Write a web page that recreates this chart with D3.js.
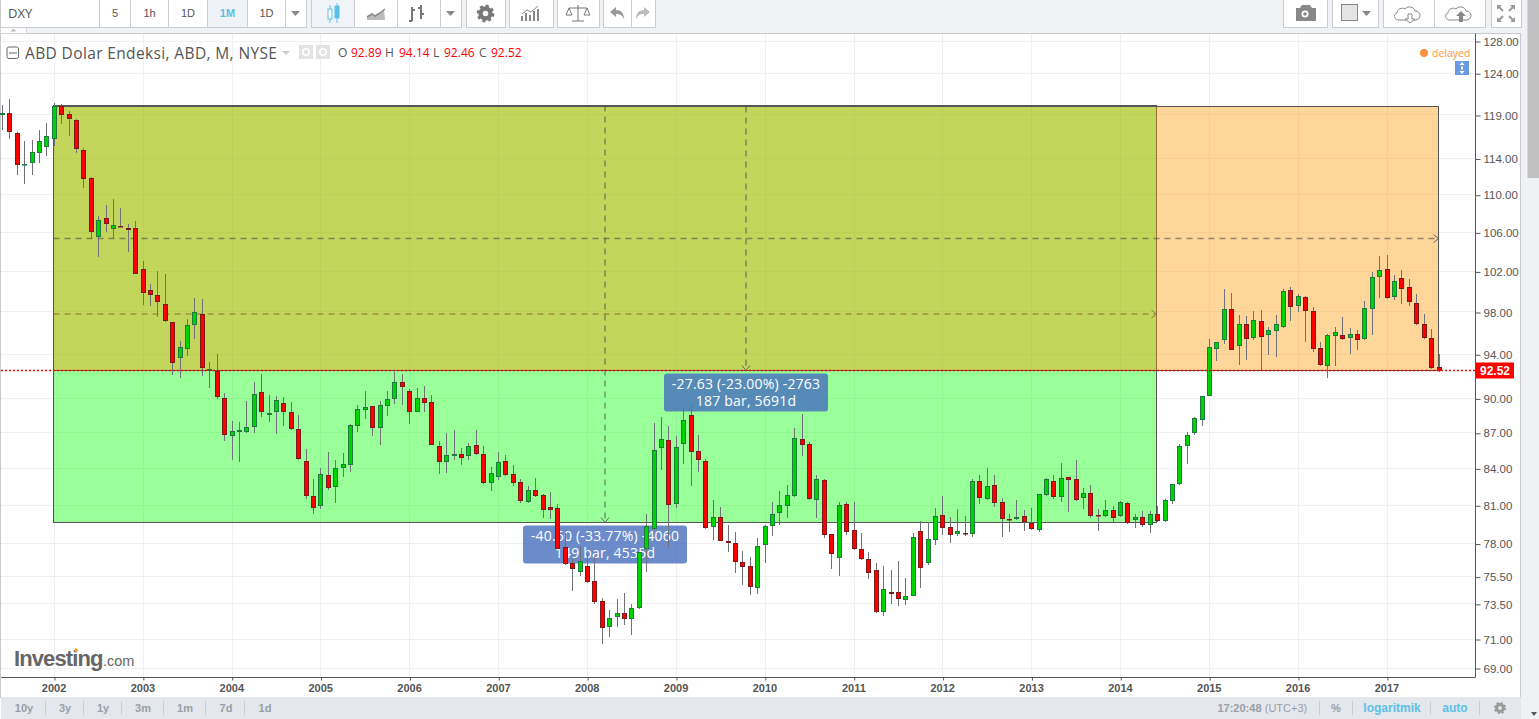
<!DOCTYPE html>
<html><head><meta charset="utf-8">
<script src="https://cdnjs.cloudflare.com/ajax/libs/d3/7.8.5/d3.min.js"></script>
<style>
html,body{margin:0;padding:0;background:#fff;overflow:hidden}
svg{display:block}
text{font-family:"Liberation Sans",Arial,sans-serif}
.ui{font-family:"Open Sans",sans-serif}
.axis path.domain{stroke:#555}
.axis .tick line{stroke:#555}
</style></head><body>
<div id="chart"></div>
<script>
// ---------- data (monthly bars, first bar = Jun 2001, index 0 = Jan 2002) ----------
const firstIndex = -7;
const opens = [119.07,119.31,116.98,113.42,113.58,114.70,115.45,
116.30,120.14,119.20,118.49,115.11,111.92,105.67,107.59,106.43,106.74,106.54,106.54,
102.32,100.22,99.73,98.87,97.10,93.72,94.56,96.82,97.87,92.62,92.58,90.10,
86.79,87.13,87.13,87.56,90.63,88.60,88.87,89.66,88.87,87.39,84.67,81.81,
81.05,83.51,82.58,84.09,84.39,87.70,89.10,89.40,87.53,89.45,90.07,91.53,
90.72,88.92,90.10,89.75,85.94,84.64,85.14,85.26,85.09,86.02,85.26,82.92,
83.40,84.67,83.59,82.95,81.37,82.29,81.89,80.93,80.84,77.79,76.57,75.90,
76.35,75.22,73.75,71.89,72.60,72.89,72.46,73.25,77.70,79.19,85.76,86.44,
81.16,86.13,88.60,85.51,84.67,79.34,80.13,78.25,78.09,76.65,76.35,74.70,
77.94,79.42,80.45,81.00,81.81,86.53,86.10,81.49,83.11,78.80,76.95,81.16,
79.11,77.63,76.87,76.05,72.96,74.41,74.41,73.83,74.17,79.03,76.57,78.33,
80.28,79.34,78.80,78.87,78.80,83.03,81.57,82.70,81.32,79.97,79.97,80.20,
79.65,79.11,81.89,83.03,81.73,83.35,83.19,81.65,82.05,80.28,80.20,80.69,
80.20,81.24,79.89,80.13,79.50,80.37,79.81,81.40,82.78,85.94,87.05,88.16,
90.28,94.56,95.40,98.36,94.84,96.91,95.59,97.20,95.86,96.25,96.63,100.22,
98.65,99.53,98.17,94.65,92.99,95.77,95.86,95.59,95.96,95.50,98.36,101.51,
102.32,99.53,101.41,100.52,98.97,96.91,95.59,92.89];
const highs = [120.30,121.01,117.17,116.11,116.22,117.37,118.22,
120.50,120.38,119.55,118.61,115.27,112.00,107.84,109.00,109.66,108.69,107.00,107.30,
103.13,100.84,102.15,101.84,97.17,95.34,97.42,99.47,99.37,93.38,94.12,90.57,
88.10,88.02,89.86,91.53,92.29,90.39,90.30,90.22,89.77,88.63,85.70,83.21,
84.12,85.45,84.78,85.37,87.84,89.51,90.75,89.40,89.83,90.75,92.49,92.29,
90.93,91.02,91.20,90.39,86.39,87.07,87.33,85.79,86.22,87.33,85.94,84.20,
85.45,85.20,84.36,83.21,82.65,83.29,81.99,82.15,81.19,78.87,76.87,77.88,
77.33,77.07,74.00,73.13,73.92,74.36,73.56,77.41,80.39,87.93,88.46,87.67,
86.81,89.31,89.60,86.90,84.84,81.51,80.95,79.52,78.97,77.50,77.05,78.50,
79.50,81.35,82.23,82.72,87.50,88.72,86.30,83.51,83.19,78.80,81.35,81.35,
81.35,78.87,77.41,76.57,76.37,76.07,76.74,75.47,78.89,79.83,79.75,80.87,
81.83,80.15,80.79,80.23,83.19,83.51,84.09,83.51,81.65,80.39,81.51,80.71,
80.87,81.97,83.27,83.51,84.53,83.35,84.75,82.45,82.70,80.79,81.51,81.03,
81.40,81.35,80.39,80.63,80.63,81.03,81.57,82.78,86.16,87.16,88.46,90.28,
95.52,95.21,100.35,99.95,97.81,97.71,98.19,98.29,96.63,97.81,100.35,100.55,
99.85,99.66,98.55,95.24,95.96,96.66,97.62,96.53,96.34,99.17,102.02,103.67,
103.77,101.74,102.25,101.31,99.82,97.91,96.44,94.14];
const lows = [117.37,116.37,112.28,111.29,112.28,113.65,114.43,
115.56,118.06,116.68,114.77,110.88,105.42,103.60,106.15,105.45,106.63,104.10,101.82,
98.81,98.68,97.62,97.17,92.20,91.92,93.93,95.52,92.10,91.02,90.07,86.41,
84.78,84.61,87.10,87.10,88.48,88.02,87.01,87.70,87.33,84.78,81.59,80.42,
80.81,82.31,81.27,83.38,83.78,87.16,88.28,86.81,86.04,88.57,89.60,89.51,
87.84,88.89,88.89,86.04,83.62,83.70,84.78,84.36,84.78,85.20,82.82,82.23,
83.13,83.48,82.65,81.27,81.27,81.75,80.07,79.99,77.67,76.45,74.53,75.64,
75.07,73.60,70.74,71.23,71.89,72.05,71.35,73.22,75.95,79.13,83.95,77.76,
80.87,84.45,82.65,83.78,79.23,78.35,78.25,77.45,75.86,74.97,74.24,74.28,
76.62,78.69,79.54,80.07,81.78,85.12,81.51,80.07,78.48,76.17,75.59,78.75,
77.60,76.80,75.42,72.89,72.70,73.56,73.44,73.49,74.14,74.73,76.45,77.96,
78.74,78.12,78.66,78.66,78.58,81.19,81.51,80.95,78.58,78.97,79.91,79.05,
79.13,78.97,81.83,81.59,81.35,80.55,81.43,80.79,80.07,79.08,80.17,79.73,
80.15,79.62,79.31,79.39,78.92,79.73,79.78,81.21,82.74,84.47,86.92,87.70,
90.28,93.47,95.05,94.46,93.10,93.56,95.43,92.56,94.03,93.84,96.56,97.23,
98.09,95.24,94.31,93.01,91.92,93.01,95.40,94.12,94.49,95.46,95.92,99.47,
99.40,99.27,98.88,98.68,96.85,95.50,92.74,92.46];
const closes = [119.31,117.10,113.36,113.50,114.82,116.07,116.64,
120.14,119.07,118.61,115.16,111.81,106.12,107.38,106.95,106.85,106.63,106.33,101.82,
99.92,99.73,99.04,97.20,93.25,94.74,96.82,98.07,92.81,92.71,90.19,86.88,
87.22,87.30,87.56,90.45,88.92,88.81,89.92,88.92,87.39,84.89,81.81,80.84,
83.59,82.50,84.09,84.42,87.73,89.13,89.30,87.53,89.48,90.01,91.53,91.14,
88.92,90.10,89.71,86.07,84.64,85.17,85.26,84.97,85.94,85.31,82.90,83.68,
84.59,83.56,82.92,81.45,82.29,81.85,80.73,80.73,77.67,76.50,76.12,76.72,
75.15,73.68,71.82,72.53,72.89,72.46,73.25,77.41,79.42,85.59,86.53,81.13,
85.85,88.16,85.48,84.81,79.26,80.13,78.30,78.14,76.65,76.27,74.78,77.87,
79.42,80.37,81.08,81.89,86.62,86.02,81.57,83.19,78.72,77.25,81.08,78.95,
77.70,76.87,75.82,72.96,74.63,74.26,73.90,74.12,78.56,76.20,78.40,80.20,
79.26,78.72,79.03,78.80,83.03,81.65,82.62,81.24,79.97,79.89,80.13,79.73,
79.19,81.97,83.19,81.73,83.27,83.11,81.49,82.05,80.20,80.20,80.69,80.04,
81.32,79.65,80.13,79.50,80.37,79.81,81.49,82.78,85.94,86.88,88.34,90.28,
94.74,95.21,98.36,94.52,96.91,95.50,97.30,95.74,96.34,96.91,100.12,98.55,
99.63,98.17,94.56,93.07,95.86,96.15,95.50,95.96,95.40,98.48,101.51,102.22,
99.44,101.11,100.32,99.04,96.91,95.59,92.81,92.52];
const years = [2002,2003,2004,2005,2006,2007,2008,2009,2010,2011,2012,2013,2014,2015,2016,2017];
const priceTicks = [128,124,119,114,110,106,102,98,94,90,87,84,81,78,75.5,73.5,71,69];
const lastPrice = 92.52;
const boxGreen = {from:0,to:149,top:120.22,bottom:79.75,text:["-40.60 (-33.77%) -4060","149 bar, 4535d"]};
const boxOrange = {from:0,to:187,top:120.13,bottom:92.6,text:["-27.63 (-23.00%) -2763","187 bar, 5691d"]};
const rangeButtons = ["10y","3y","1y","3m","1m","7d","1d"];
const intervalButtons = ["5","1h","1D","1M","1D"];

// ---------- scales ----------
const W=1539,H=719;
const x = d3.scaleLinear().domain([0,187]).range([54.3,1439.0]);
const y = d3.scaleLog().domain([128,69]).range([42,669]);
const plot = {l:1,r:1475,t:34,b:677};

const svg = d3.select("#chart").append("svg").attr("width",W).attr("height",H).attr("viewBox",`0 0 ${W} ${H}`);
const snap = v=>Math.floor(v)+.5;

// ---------- page chrome ----------
svg.append("rect").attr("width",W).attr("height",H).attr("fill","#fff");
svg.append("rect").attr("width",1527).attr("height",33).attr("fill","#f0f2f6");
svg.append("rect").attr("x",1520.5).attr("y",0).attr("width",19).attr("height",H).attr("fill","#f0f1f4");
svg.append("rect").attr("x",1527.5).attr("y",0).attr("width",11.5).attr("height",178).attr("fill","#c1c1c1");
svg.append("path").attr("d","M1531 712h6l-3 4z").attr("fill","#555");
svg.append("rect").attr("x",.5).attr("y",33.5).attr("width",1520).attr("height",664).attr("fill","#fff").attr("stroke","#c8cad0");
svg.append("rect").attr("x",1).attr("y",697).attr("width",1520).attr("height",22).attr("fill","#e4e7ec");
svg.append("rect").attr("x",.5).attr("y",27.5).attr("width",26).attr("height",6).attr("fill","#fff").attr("stroke","#d4d6da");
svg.append("path").attr("d","M10.5 31.5l3-3l3 3z").attr("fill","#bbb");

// ---------- grid ----------
const grid = svg.append("g");
grid.selectAll("line.h").data(priceTicks).join("line")
 .attr("x1",plot.l).attr("x2",plot.r).attr("y1",d=>snap(y(d))-1).attr("y2",d=>snap(y(d))-1)
 .attr("stroke","#f0f0f2");
grid.selectAll("line.v").data(years).join("line")
 .attr("x1",(d,i)=>snap(x(i*12))).attr("x2",(d,i)=>snap(x(i*12))).attr("y1",plot.t).attr("y2",plot.b)
 .attr("stroke","#f0f0f2");

// ---------- boxes ----------
function boxGeom(b){
 const x0=snap(x(b.from)-1), x1=snap(x(b.to)-1), y0=snap(y(b.top)), y1=snap(y(b.bottom));
 return {x0,x1,y0,y1,mx:(x0+x1)/2,my:(y0+y1)/2};
}
const gA=boxGeom(boxGreen), gB=boxGeom(boxOrange);
function drawBox(g,fill){
 svg.append("rect").attr("x",g.x0).attr("y",g.y0).attr("width",g.x1-g.x0).attr("height",g.y1-g.y0)
  .attr("fill",fill).attr("stroke","#555").attr("stroke-width",1);
}
drawBox(gA,"rgba(0,255,0,.4)");
drawBox(gB,"rgba(255,153,0,.4)");
function dashed(x1,y1,x2,y2,col){
 svg.append("line").attr("x1",x1).attr("y1",y1).attr("x2",x2).attr("y2",y2)
  .attr("stroke",col).attr("stroke-dasharray","6 5").attr("stroke-width",1.5);
}
function chevronRight(px,py,col){svg.append("path").attr("d",`M${px-5} ${py-4}L${px} ${py}L${px-5} ${py+4}`).attr("fill","none").attr("stroke",col);}
function chevronDown(px,py,col){svg.append("path").attr("d",`M${px-4} ${py-5}L${px} ${py}L${px+4} ${py-5}`).attr("fill","none").attr("stroke",col);}
const dashGrey="rgba(70,70,70,.55)", dashTan="rgba(140,100,40,.6)";
dashed(gB.x0,gB.my,gB.x1,gB.my,dashGrey); chevronRight(gB.x1,gB.my,"#666");
dashed(gA.x0,gA.my,gA.x1,gA.my,dashTan);  chevronRight(gA.x1,gA.my,"#8a7a50");
dashed(gA.mx,gA.y0,gA.mx,gA.y1,dashGrey); chevronDown(gA.mx,gA.y1,"#666");
dashed(gB.mx,gB.y0,gB.mx,gB.y1,dashGrey); chevronDown(gB.mx,gB.y1,"#666");

// ---------- measuring labels ----------
function measureLabel(lines,cx,top){
 const bw=164,bh=38;
 svg.append("rect").attr("x",cx-bw/2).attr("y",top).attr("width",bw).attr("height",bh).attr("rx",3)
  .attr("fill","rgba(70,110,190,.8)");
 lines.forEach((t,i)=>svg.append("text").attr("x",cx).attr("y",top+15+i*17).attr("text-anchor","middle")
  .attr("fill","#fff").attr("class","ui").attr("font-size",14).attr("letter-spacing",.2).text(t));
}
measureLabel(boxGreen.text,gA.mx,gA.y1+3);
measureLabel(boxOrange.text,gB.mx,gB.y1+3);

// ---------- candles ----------
const bars = opens.map((o,i)=>({i:i+firstIndex,o,h:highs[i],l:lows[i],c:closes[i]}));
const candle = svg.append("g").selectAll("g").data(bars).join("g");
candle.append("line")
 .attr("x1",d=>snap(x(d.i))).attr("x2",d=>snap(x(d.i)))
 .attr("y1",d=>Math.round(y(d.h))).attr("y2",d=>Math.round(y(d.l)))
 .attr("stroke","#707078").attr("stroke-width",1);
candle.append("rect")
 .attr("x",d=>snap(x(d.i))-2).attr("width",4)
 .attr("y",d=>Math.round(y(Math.max(d.o,d.c)))+.5)
 .attr("height",d=>Math.max(Math.round(y(Math.min(d.o,d.c)))-Math.round(y(Math.max(d.o,d.c)))-1,.5))
 .attr("fill",d=>d.c>=d.o?"#00d400":"#ff0000")
 .attr("stroke",d=>d.c>=d.o?"#1f7a3f":"#7a1a1a").attr("stroke-width",1);

// ---------- axes ----------
const axisY = d3.axisRight(y).tickValues(priceTicks).tickFormat(d3.format(".2f")).tickSize(5).tickSizeOuter(0);
svg.append("g").attr("class","axis").attr("transform",`translate(${plot.r+.5},-0.5)`).call(axisY)
 .call(g=>g.select(".domain").attr("d",`M0 ${plot.t}V${plot.b+1}`))
 .selectAll("text").attr("x",8).attr("fill","#555").attr("font-size",11.5).attr("font-family",'"Liberation Sans",sans-serif');
const axisX = d3.axisBottom(x).tickValues(years.map((d,i)=>i*12)).tickFormat((d,i)=>years[i]).tickSize(3).tickSizeOuter(0);
svg.append("g").attr("class","axis").attr("transform",`translate(0.2,${plot.b+.5})`).call(axisX)
 .call(g=>g.select(".domain").attr("d",`M${plot.l} 0H${plot.r}`))
 .selectAll("text").attr("y",7).attr("dx",-.9).attr("fill","#555").attr("font-size",11).attr("font-weight","bold").attr("font-family",'"Liberation Sans",sans-serif');

// ---------- last-price line ----------
const ly=snap(y(lastPrice)-1);
svg.append("line").attr("x1",plot.l).attr("x2",1476).attr("y1",ly).attr("y2",ly).attr("stroke","#f00").attr("stroke-width",1.3).attr("stroke-dasharray","2 2");
svg.append("rect").attr("x",1476).attr("y",ly-8).attr("width",38).attr("height",16).attr("fill","#f00");
svg.append("text").attr("x",1495).attr("y",ly+4.5).attr("text-anchor","middle").attr("fill","#fff").attr("font-weight","bold").attr("font-size",12).text(lastPrice.toFixed(2));

// ---------- legend ----------
const ink="#555";
svg.append("rect").attr("x",7).attr("y",47).attr("width",11.5).attr("height",11.5).attr("rx",2).attr("fill","none").attr("stroke","#666");
svg.append("line").attr("x1",9).attr("x2",17).attr("y1",53).attr("y2",53).attr("stroke","#666");
svg.append("text").attr("x",25).attr("y",58.5).attr("class","ui").attr("font-size",15.5).attr("letter-spacing",.37).attr("fill",ink).text("ABD Dolar Endeksi, ABD, M, NYSE");
svg.append("path").attr("d","M282 51h8l-4 4z").attr("fill","#ccc");
[[299],[316]].forEach(([px])=>{
 svg.append("rect").attr("x",px).attr("y",45).attr("width",14).attr("height",14).attr("fill","#e3e3e3");
 svg.append("circle").attr("cx",px+7).attr("cy",52).attr("r",3.2).attr("fill","none").attr("stroke","#fff").attr("stroke-width",1.6);
});
const ohlc=[["O",338],["92.89",351,1],["H",385],["94.14",399,1],["L",433],["92.46",444,1],["C",479],["92.52",491,1]];
ohlc.forEach(([t,px,red])=>svg.append("text").attr("x",px).attr("y",57).attr("font-size",12).attr("class","ui").attr("fill",red?"#f00":ink).text(t));
svg.append("circle").attr("cx",1424).attr("cy",53).attr("r",4).attr("fill","#ff9240");
svg.append("text").attr("x",1432).attr("y",56.5).attr("font-size",10.5).attr("class","ui").attr("fill","#ff9240").text("delayed");
svg.append("rect").attr("x",1455).attr("y",61).attr("width",14).attr("height",14).attr("fill","#6a9ae2");
svg.append("path").attr("d","M1462 62l2.5 3h-5zM1462 74l2.5 -3h-5z").attr("fill","#fff");
svg.append("rect").attr("x",1461).attr("y",66.5).attr("width",2).attr("height",3).attr("fill","#fff");

// ---------- logo ----------
svg.append("text").attr("x",14).attr("y",666).attr("font-family","Roboto").attr("font-weight",900).attr("font-size",22).attr("letter-spacing",-.9).attr("fill","#666").text("Investing");
svg.append("text").attr("x",103).attr("y",666).attr("font-family","Roboto").attr("font-weight",300).attr("font-size",14.5).attr("fill","#666").text(".com");
svg.append("circle").attr("cx",76).attr("cy",650).attr("r",1.8).attr("fill","#f5a623");

// ---------- toolbar ----------
function btn(bx,bw,fill){
 svg.append("rect").attr("x",bx+.5).attr("y",-1).attr("width",bw).attr("height",28.5).attr("fill",fill||"#fff").attr("stroke","#c9ccd1");
}
function label(t,cx,col,size,cy,extra){
 const n=svg.append("text").attr("x",cx).attr("y",cy||17).attr("text-anchor","middle").attr("font-size",size||11).attr("fill",col||"#555").text(t);
 if(extra) n.attr("font-weight",extra);
 return n;
}
function gear(cx,cy,r,col){
 svg.append("circle").attr("cx",cx).attr("cy",cy).attr("r",r*.62).attr("fill","none").attr("stroke",col).attr("stroke-width",r*.55);
 const rr=r*.95,c=2*Math.PI*rr;
 svg.append("circle").attr("cx",cx).attr("cy",cy).attr("r",rr).attr("fill","none").attr("stroke",col).attr("stroke-width",r*.32)
  .attr("stroke-dasharray",`${c/16} ${c/16}`);
}
btn(0,99);
svg.append("text").attr("x",8).attr("y",18).attr("font-size",13).attr("class","ui").attr("fill","#555").text("DXY");
const ivX=[99,130,168,207,247];const ivW=[31,38,39,40,38];
intervalButtons.forEach((t,i)=>{btn(ivX[i],ivW[i],i==3?"#eff3f7":"#fff");label(t,ivX[i]+ivW[i]/2+.5,i==3?"#5bc0e8":"#555",11,17,i==3?"bold":"normal");});
btn(285,21);svg.append("path").attr("d","M291 11h9l-4.5 5z").attr("fill","#888");
btn(311,43,"#f0f4f8");btn(354,43);btn(397,43);btn(440,21);
svg.append("path").attr("d","M446 11h9l-4.5 5z").attr("fill","#888");
svg.append("rect").attr("x",328).attr("y",9).attr("width",4).attr("height",10).attr("fill","#fff").attr("stroke","#5bc0e8");
svg.append("rect").attr("x",335).attr("y",6).attr("width",4).attr("height",12).attr("fill","#5bc0e8").attr("stroke","#5bc0e8");
svg.append("path").attr("d","M330 5v4M330 19v4M337 3v3M337 18v5").attr("stroke","#5bc0e8");
svg.append("path").attr("d","M367 20v-3l5-3 3 2 5-3 4-3 1 10z").attr("fill","#bbb");
svg.append("path").attr("d","M367 17l5-3 3 2 5-3 5-4").attr("fill","none").attr("stroke","#888").attr("stroke-width",1.5);
svg.append("path").attr("d","M412 21v-14M421 5v14M409 21h3M412 10h3M418 8h3M421 14h3").attr("fill","none").attr("stroke","#777").attr("stroke-width",2);
btn(466,39);
gear(485.5,13.5,8,"#777");
btn(509,44);
svg.append("path").attr("d","M522 21v-5M526 21v-8M530 21v-6M534 21v-10M538 21v-12").attr("stroke","#888").attr("stroke-width",2);
svg.append("path").attr("d","M522 14l5-4 4 2 7-6").attr("fill","none").attr("stroke","#888");
btn(557,42);
svg.append("path").attr("d","M578 5v16M572 21h12M569 8h18M569 8l-3 7h6zM587 8l-3 7h6z").attr("fill","none").attr("stroke","#777");
btn(603,28);btn(631,24);
svg.append("path").attr("d","M610 12l6-5v3c5 0 8 3 8 9c-2-4-4-5-8-5v3z").attr("fill","#999");
svg.append("path").attr("d","M650 12l-6-5v3c-5 0-8 3-8 9c2-4 4-5 8-5v3z").attr("fill","#bbb");
btn(1283,44);
svg.append("path").attr("d","M1296 8h4l2-3h8l2 3h4v13h-20z").attr("fill","#888");
svg.append("circle").attr("cx",1305).attr("cy",14).attr("r",3.5).attr("fill","#fff");
svg.append("circle").attr("cx",1305).attr("cy",14).attr("r",1.8).attr("fill","#888");
btn(1332,46);
svg.append("rect").attr("x",1341.5).attr("y",4.5).attr("width",16).attr("height",16).attr("fill","#e4e4e4").attr("stroke","#888");
svg.append("path").attr("d","M1362 11h9l-4.5 5z").attr("fill","#888");
btn(1383,51);btn(1434,51);
const cloud=(ox)=>`M${ox} 20c-5 0-6-6-2-7c0-4 5-6 8-4c2-3 9-3 10 2c6 0 7 8 1 9z`;
svg.append("path").attr("d",cloud(1399)).attr("fill","none").attr("stroke","#888");
svg.append("path").attr("d","M1408 14h4v5h3l-5 4l-5-4h3z").attr("fill","#fff").attr("stroke","#888");
svg.append("path").attr("d",cloud(1450)).attr("fill","none").attr("stroke","#888");
svg.append("path").attr("d","M1459 22v-6h-3l5-5l5 5h-3v6z").attr("fill","#888");
btn(1491,30);
svg.append("path").attr("d","M1497 5h5l-5 5zM1515 5h-5l5 5zM1497 22h5l-5-5zM1515 22h-5l5-5z").attr("fill","#999");
svg.append("path").attr("d","M1499 7l4 4M1513 7l-4 4M1499 20l4-4M1513 20l-4-4").attr("stroke","#999").attr("stroke-width",2);

// ---------- bottom bar ----------
const rangeX=[24,65,103,143,185,226,265], rangeSep=[45,83,121,163,205,244];
rangeButtons.forEach((t,i)=>label(t,rangeX[i],"#9a9ea6",11,712,"bold"));
rangeSep.forEach(sx=>svg.append("line").attr("x1",sx+.5).attr("x2",sx+.5).attr("y1",701).attr("y2",715).attr("stroke","#c9ccd1"));
[1319,1352,1430,1479].forEach(sx=>svg.append("line").attr("x1",sx+.5).attr("x2",sx+.5).attr("y1",701).attr("y2",715).attr("stroke","#c9ccd1"));
label("17:20:48",1239.5,"#9a9ea6",11,712,"bold");
label("(UTC+3)",1286,"#9a9ea6",11,712);
label("%",1336,"#9a9ea6",11,712,"bold");
label("logaritmik",1392,"#5bc0e8",12,712,"bold");
label("auto",1455,"#5bc0e8",12,712,"bold");
gear(1500,708,5.5,"#999");
</script>
</body></html>
